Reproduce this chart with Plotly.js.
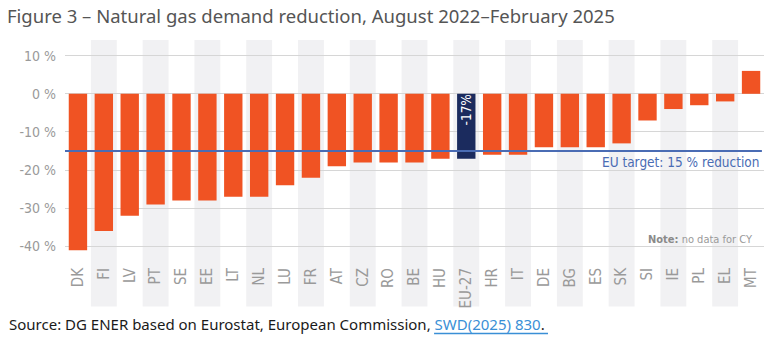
<!DOCTYPE html>
<html>
<head>
<meta charset="utf-8">
<script src="https://cdn.plot.ly/plotly-3.0.1.min.js"></script>
<style>html,body{margin:0;padding:0;background:#fff;}#chart{width:777px;height:342px;}</style>
</head>
<body>
<div id="chart"></div>
<script>
const countries = ["DK","FI","LV","PT","SE","EE","LT","NL","LU","FR","AT","CZ","RO","BE","HU","EU-27","HR","IT","DE","BG","ES","SK","SI","IE","PL","EL","MT"];
const reduction = [-41,-36,-32,-29,-28,-28,-27,-27,-24,-22,-19,-18,-18,-18,-17,-17,-16,-16,-14,-14,-14,-13,-7,-4,-3,-2,6];
const euTarget = -15;
const yTickVals = [10,0,-10,-20,-30,-40];
const yTickText = ["10 %","0 %","-10 %","-20 %","-30 %","-40 %"];
const highlight = "EU-27";

const condensed = "'DejaVu Sans Condensed','Liberation Sans Narrow','Roboto Condensed',Roboto,sans-serif";
const orange = "#f05323";
const navy = "#1b2b5e";

const colors = countries.map(c => c === highlight ? navy : orange);
const hiIndex = countries.indexOf(highlight);

const bands = [];
countries.forEach((c,i) => {
  if (i % 2 === 1) bands.push({type:"rect", xref:"x", yref:"paper", x0:i-0.5, x1:i+0.5, y0:-0.245, y1:1, fillcolor:"#f1f1f3", line:{width:0}, layer:"below"});
});

const trace = {
  type:"bar", x:countries, y:reduction, marker:{color:colors},
  hoverinfo:"x+y", cliponaxis:false
};

const layout = {
  width:777, height:342,
  margin:{l:65, r:13, t:40, b:88},
  paper_bgcolor:"#ffffff", plot_bgcolor:"rgba(0,0,0,0)",
  showlegend:false, bargap:0.29,
  title:{text:"Figure 3 – Natural gas demand reduction, August 2022–February 2025",
    xref:"container", yref:"container", x:7/777, xanchor:"left", y:1-17/342, yanchor:"middle",
    font:{family:"'Noto Sans','Open Sans',sans-serif", size:18.5, color:"#555555"}},
  xaxis:{type:"category", tickangle:-90, ticks:"", showgrid:false, zeroline:false, showline:false,
    tickfont:{family:condensed, size:15, color:"#9a9a9a"}, ticklabelstandoff:10, automargin:false},
  yaxis:{range:[-42,14.1], tickvals:yTickVals, ticktext:yTickText, showgrid:true, gridcolor:"#d6d6d6", gridwidth:1,
    zeroline:false, showline:false, ticks:"", tickfont:{family:condensed, size:14, color:"#9a9a9a"}, ticklabelstandoff:8, automargin:false},
  shapes: bands.concat([
    {type:"line", xref:"paper", yref:"y", x0:0, x1:0.997, y0:euTarget, y1:euTarget, line:{color:"#4a6cb4", width:2}, layer:"above"},
    {type:"line", xref:"paper", yref:"paper", x0:0.528, x1:0.691, y0:-0.371, y1:-0.371, line:{color:"#3a8fd6", width:1.5}}
  ]),
  annotations:[
    {text:reduction[hiIndex] + "%", xref:"x", yref:"y", x:highlight, y:-4.3, xanchor:"center", yanchor:"middle", textangle:-90, showarrow:false,
      font:{family:condensed, size:13.5, color:"#ffffff"}},
    {text:"EU target: 15 % reduction", xref:"paper", yref:"y", x:0.997, y:euTarget, xanchor:"right", yanchor:"top", yshift:-1, showarrow:false,
      font:{family:condensed, size:13.5, color:"#4a6cb4"}},
    {text:"<b style='color:#8a8a8a'>Note:</b> no data for CY", xref:"paper", yref:"y", x:0.987, y:-38.2, xanchor:"right", yanchor:"middle", showarrow:false,
      font:{family:condensed, size:11, color:"#9a9a9a"}},
    {text:"Source: DG ENER based on Eurostat, European Commission, <span style='color:#3a8fd6'>SWD(2025) 830</span>.", xref:"paper", yref:"paper", x:(7-65)/699, y:(254.4-325)/214.4, xanchor:"left", yanchor:"middle", showarrow:false,
      font:{family:"'Noto Sans','Open Sans',sans-serif", size:15, color:"#1a1a1a"}}
  ]
};

Plotly.newPlot("chart", [trace], layout, {displayModeBar:false, staticPlot:true});
</script>
</body>
</html>
